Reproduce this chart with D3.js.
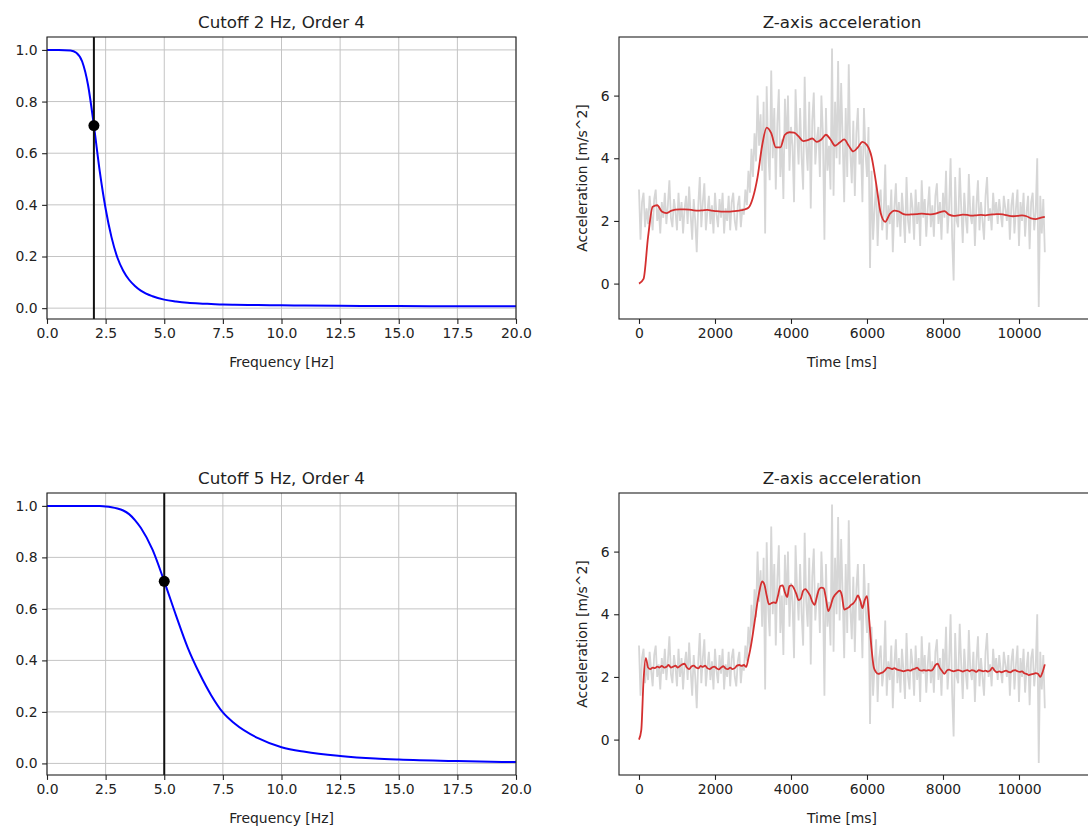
<!DOCTYPE html>
<html>
<head>
<meta charset="utf-8">
<script src="https://cdn.jsdelivr.net/npm/d3@7"></script>
<style>
  body { margin: 0; background: #fff; }
  text { font-family: "DejaVu Sans", sans-serif; fill: #222; }
</style>
</head>
<body>
<div id="fig"></div>
<script>
// frequency response of the two Butterworth filters
var freqs = [0, 0.5, 1, 1.25, 1.5, 1.75, 2, 2.25, 2.5, 2.75, 3, 3.25, 3.5, 3.75, 4, 4.5, 5,
  5.5, 6, 6.5, 7, 7.5, 8, 9, 10, 11, 12.5, 14, 15, 17.5, 20]
var resp2Hz = [1, 1, 0.998, 0.989, 0.955, 0.864, 0.707, 0.53, 0.385, 0.275, 0.196, 0.145, 0.11, 0.086,
  0.068, 0.046, 0.033, 0.026, 0.021, 0.018, 0.016, 0.014, 0.013, 0.012, 0.011, 0.01, 0.009, 0.0085,
  0.008, 0.0075, 0.007]
var resp5Hz = [1, 1, 1, 1, 1, 1, 1, 0.9995, 0.998, 0.995, 0.99, 0.982, 0.968, 0.945, 0.915, 0.83,
  0.707, 0.575, 0.45, 0.35, 0.265, 0.198, 0.155, 0.098, 0.063, 0.045, 0.029, 0.019, 0.015, 0.009, 0.005]
var cutoffs = [2, 5]

// raw z-axis acceleration, one sample every 40 ms
var rawAccel = [
  3.0, 1.4, 2.6, 2.9, 1.8, 2.4, 1.9, 2.8, 2.2, 1.7,
  2.7, 3.0, 2.0, 2.4, 1.6, 2.6, 2.1, 2.9, 1.9, 2.5,
  3.3, 2.1, 1.8, 2.7, 2.3, 1.7, 2.9, 2.0, 2.6, 1.6,
  2.4, 2.8, 1.9, 3.1, 2.2, 1.4, 2.7, 2.0, 1.0, 2.5,
  3.4, 1.8, 2.6, 3.2, 1.7, 2.3, 2.8, 1.9, 2.5, 1.6,
  2.9, 2.2, 1.8, 2.7, 2.1, 2.9, 1.6, 2.4, 2.0, 2.8,
  1.7, 2.6, 2.9, 2.0, 1.7, 2.5, 2.8, 1.8, 2.4, 2.2,
  3.0, 2.5, 3.6, 2.9, 4.3, 3.4, 4.8, 3.9,
  6.0, 4.4, 5.4, 3.6, 5.8, 1.6, 6.3, 4.2, 3.3, 6.8,
  4.0, 5.6, 3.0, 5.1, 6.2, 3.4, 4.6, 2.7, 5.9, 4.3,
  6.0, 3.6, 5.0, 4.4, 2.6, 6.2, 4.8, 3.8, 5.6, 4.0,
  3.0, 6.6, 4.4, 3.6, 5.8, 2.4, 5.2, 6.1, 3.8, 4.6,
  5.0, 3.4, 6.0, 4.8, 1.4, 5.6, 3.6, 4.4, 3.0, 7.5,
  2.8, 5.8, 4.0, 7.1, 3.8, 6.4, 4.6, 2.6, 5.6, 3.4,
  7.0, 4.2, 3.2, 5.2, 2.8, 4.8, 5.6, 3.8, 4.4, 2.6,
  5.6, 4.2, 3.4, 5.0,
  0.5, 3.6, 1.4, 2.4, 3.2,
  1.2, 2.6, 3.0, 1.7, 2.2, 3.8, 1.4, 2.5, 1.9, 3.0,
  1.0, 2.4, 3.2, 1.8, 2.6, 1.5, 2.9, 2.2, 1.3, 3.4,
  2.0, 1.6, 2.9, 2.4, 1.4, 3.0, 1.9, 2.6, 1.2, 3.3,
  2.1, 2.7, 1.5, 2.4, 3.1, 1.8, 2.5, 1.5, 2.8, 3.2,
  1.9, 2.6, 1.4, 2.9, 2.1, 3.6, 1.6, 2.4, 4.0, 1.5,
  0.1, 3.4, 2.0, 1.8, 3.7, 2.4, 1.3, 2.9, 2.1, 1.6,
  3.5, 2.2, 1.9, 2.8, 1.2, 2.5, 3.3, 1.7, 2.6, 2.0,
  1.4, 2.8, 3.4, 2.0, 2.4, 1.7, 2.9, 2.2, 2.6, 1.9,
  2.7, 2.2, 1.8, 2.8, 2.4, 2.0, 2.7, 1.4, 2.5, 2.9,
  1.6, 2.4, 3.0, 1.2, 2.6, 2.0, 2.9, 1.5, 2.3, 2.8,
  1.1, 2.6, 2.9, 1.7, 2.3, 4.0, -0.75, 2.8, 1.6, 2.7,
  1.0]
var rawTime = d3.range(0, 10681, 40)

// filtered with cutoff 2 Hz, one sample every 120 ms
var filt2Hz = [0.0, 0.15, 1.5, 2.45, 2.5, 2.3, 2.25, 2.32, 2.36, 2.37, 2.37, 2.36, 2.34, 2.33, 2.34, 2.35,
  2.33, 2.31, 2.3, 2.3, 2.3, 2.31, 2.33, 2.36, 2.42, 2.75, 3.4, 4.4, 4.98, 4.8, 4.35, 4.35, 4.75, 4.83,
  4.82, 4.7, 4.55, 4.58, 4.63, 4.52, 4.6, 4.75, 4.6, 4.4, 4.5, 4.6, 4.4, 4.22, 4.35, 4.52, 4.42, 4.05,
  3.2, 2.25, 1.97, 2.22, 2.33, 2.3, 2.22, 2.2, 2.21, 2.22, 2.23, 2.22, 2.21, 2.23, 2.28, 2.31, 2.2, 2.16,
  2.18, 2.2, 2.19, 2.17, 2.18, 2.19, 2.18, 2.2, 2.21, 2.22, 2.2, 2.17, 2.15, 2.16, 2.18, 2.15, 2.08, 2.06,
  2.1, 2.13]
var filt2Time = d3.range(0, 10681, 120)

// filtered with cutoff 5 Hz, one sample every 60 ms
var filt5Hz = [0.0, 0.3, 1.9, 2.6, 2.3, 2.25, 2.3, 2.28, 2.33, 2.3, 2.35, 2.3, 2.32, 2.38, 2.3, 2.33, 2.36,
  2.3, 2.35, 2.4, 2.42, 2.3, 2.25, 2.33, 2.36, 2.3, 2.27, 2.35, 2.32, 2.36, 2.28, 2.25, 2.3, 2.33, 2.28,
  2.24, 2.3, 2.34, 2.27, 2.25, 2.3, 2.25, 2.28, 2.36, 2.38, 2.35, 2.38, 2.32, 2.6, 2.95, 3.4, 3.9, 4.4,
  4.8, 5.05, 4.95, 4.6, 4.32, 4.35, 4.38, 4.36, 4.6, 4.9, 4.92, 4.7, 4.55, 4.9, 4.92, 4.82, 4.65, 4.45,
  4.5, 4.75, 4.8, 4.72, 4.6, 4.4, 4.3, 4.55, 4.8, 4.85, 4.83, 4.5, 4.1, 4.25, 4.5, 4.62, 4.7, 4.75, 4.6,
  4.15, 4.18, 4.22, 4.3, 4.35, 4.45, 4.6, 4.45, 4.2, 4.45, 4.58, 3.8, 2.9, 2.3, 2.15, 2.1, 2.12, 2.15,
  2.22, 2.3, 2.28, 2.25, 2.28, 2.24, 2.22, 2.2, 2.18, 2.2, 2.22, 2.2, 2.24, 2.26, 2.3, 2.22, 2.2, 2.22,
  2.2, 2.22, 2.2, 2.25, 2.38, 2.42, 2.28, 2.18, 2.1, 2.2, 2.23, 2.2, 2.18, 2.2, 2.22, 2.2, 2.17, 2.2,
  2.22, 2.18, 2.22, 2.2, 2.16, 2.22, 2.2, 2.18, 2.2, 2.17, 2.2, 2.3, 2.2, 2.15, 2.18, 2.15, 2.18, 2.2,
  2.16, 2.15, 2.2, 2.22, 2.18, 2.16, 2.18, 2.12, 2.1, 2.06, 2.08, 2.1, 2.12, 2.1, 2.0, 2.15, 2.4]
var filt5Time = d3.range(0, 10681, 60)

var freqTicks = [0, 2.5, 5, 7.5, 10, 12.5, 15, 17.5, 20]
var respTicks = [0, 0.2, 0.4, 0.6, 0.8, 1.0]
var timeTicks = [0, 2000, 4000, 6000, 8000, 10000]
var accelTicks = [0, 2, 4, 6]

var W = 1088, H = 827
var svg = d3.select("#fig").append("svg")
  .attr("width", W).attr("height", H)
svg.append("rect").attr("width", W).attr("height", H).attr("fill", "#fff")

var tickLen = 4.9, fontTick = 13.9, fontTitle = 16.7

function styleAxis(ax) {
  ax.select(".domain").remove()
  ax.selectAll(".tick line").attr("stroke", "#222").attr("stroke-width", 1.1)
  ax.selectAll(".tick text").style("font-size", fontTick + "px")
    .style("font-family", "DejaVu Sans").attr("fill", "#222")
}

function frame(g, x0, y0, w, h) {
  g.append("rect")
    .attr("x", x0).attr("y", y0).attr("width", w).attr("height", h)
    .attr("fill", "none").attr("stroke", "#222").attr("stroke-width", 1.1)
}

function drawResponse(idx, top, resp, cutoff, title, ydom) {
  var left = 47, right = 516, bottom = top + 282
  var g = svg.append("g")
  var x = d3.scaleLinear().domain([0, 20]).range([left, right])
  var y = d3.scaleLinear().domain(ydom).range([bottom, top])

  // grid
  g.append("g").selectAll("line").data(freqTicks).enter().append("line")
    .attr("x1", d => x(d)).attr("x2", d => x(d))
    .attr("y1", top).attr("y2", bottom)
    .attr("stroke", "#c4c4c4").attr("stroke-width", 1)
  g.append("g").selectAll("line").data(respTicks).enter().append("line")
    .attr("y1", d => y(d)).attr("y2", d => y(d))
    .attr("x1", left).attr("x2", right)
    .attr("stroke", "#c4c4c4").attr("stroke-width", 1)

  var clipId = "clipL" + idx
  svg.append("clipPath").attr("id", clipId).append("rect")
    .attr("x", left).attr("y", top).attr("width", right - left).attr("height", bottom - top)

  var line = d3.line().x((d, i) => x(freqs[i])).y(d => y(d)).curve(d3.curveMonotoneX)
  g.append("path").datum(resp)
    .attr("clip-path", "url(#" + clipId + ")")
    .attr("d", line).attr("fill", "none")
    .attr("stroke", "#0000ff").attr("stroke-width", 2)

  // cutoff marker
  g.append("line")
    .attr("x1", x(cutoff)).attr("x2", x(cutoff))
    .attr("y1", top).attr("y2", bottom)
    .attr("stroke", "#111").attr("stroke-width", 2)
  g.append("circle")
    .attr("cx", x(cutoff)).attr("cy", y(Math.SQRT1_2))
    .attr("r", 5.5).attr("fill", "#000")

  var xAxis = g.append("g").attr("transform", `translate(0,${bottom})`)
    .call(d3.axisBottom(x).tickValues(freqTicks).tickFormat(d3.format(".1f"))
      .tickSize(tickLen).tickPadding(4.5))
  styleAxis(xAxis)
  var yAxis = g.append("g").attr("transform", `translate(${left},0)`)
    .call(d3.axisLeft(y).tickValues(respTicks).tickFormat(d3.format(".1f"))
      .tickSize(tickLen).tickPadding(4.5))
  styleAxis(yAxis)

  frame(g, left, top, right - left, bottom - top)

  g.append("text")
    .attr("x", (left + right) / 2).attr("y", top - 9)
    .attr("text-anchor", "middle")
    .style("font-size", fontTitle + "px")
    .text(title)
  g.append("text")
    .attr("x", (left + right) / 2).attr("y", bottom + 48)
    .attr("text-anchor", "middle")
    .style("font-size", fontTick + "px")
    .text("Frequency [Hz]")
}

function drawAccel(idx, top, filt, filtTime) {
  var left = 619, right = 1110, bottom = top + 282
  var g = svg.append("g")
  // 0 ms sits at 639px and 10000 ms at 1019px
  var x = d3.scaleLinear().domain([-526, 12395]).range([left, right])
  var y = d3.scaleLinear().domain([-1.13, 7.87]).range([bottom, top])

  var clipId = "clipR" + idx
  svg.append("clipPath").attr("id", clipId).append("rect")
    .attr("x", left).attr("y", top).attr("width", right - left).attr("height", bottom - top)

  var rawLine = d3.line().x((d, i) => x(rawTime[i])).y(d => y(d))
  g.append("path").datum(rawAccel)
    .attr("clip-path", "url(#" + clipId + ")")
    .attr("d", rawLine).attr("fill", "none")
    .attr("stroke", "#d6d6d6").attr("stroke-width", 1.8)

  var filtLine = d3.line().x((d, i) => x(filtTime[i])).y(d => y(d)).curve(d3.curveMonotoneX)
  g.append("path").datum(filt)
    .attr("clip-path", "url(#" + clipId + ")")
    .attr("d", filtLine).attr("fill", "none")
    .attr("stroke", "#d42f2f").attr("stroke-width", 1.8)

  var xAxis = g.append("g").attr("transform", `translate(0,${bottom})`)
    .call(d3.axisBottom(x).tickValues(timeTicks).tickFormat(d3.format("d"))
      .tickSize(tickLen).tickPadding(4.5))
  styleAxis(xAxis)
  var yAxis = g.append("g").attr("transform", `translate(${left},0)`)
    .call(d3.axisLeft(y).tickValues(accelTicks).tickFormat(d3.format("d"))
      .tickSize(tickLen).tickPadding(4.5))
  styleAxis(yAxis)

  frame(g, left, top, right - left, bottom - top)

  g.append("text")
    .attr("x", 842).attr("y", top - 9)
    .attr("text-anchor", "middle")
    .style("font-size", fontTitle + "px")
    .text("Z-axis acceleration")
  g.append("text")
    .attr("x", 842).attr("y", bottom + 48)
    .attr("text-anchor", "middle")
    .style("font-size", fontTick + "px")
    .text("Time [ms]")
  g.append("text")
    .attr("transform", `translate(587,${(top + bottom) / 2}) rotate(-90)`)
    .attr("text-anchor", "middle")
    .style("font-size", fontTick + "px")
    .text("Acceleration [m/s^2]")
}

drawResponse(0, 37, resp2Hz, cutoffs[0], "Cutoff 2 Hz, Order 4", [-0.042, 1.05])
drawResponse(1, 493, resp5Hz, cutoffs[1], "Cutoff 5 Hz, Order 4", [-0.045, 1.05])
drawAccel(0, 37, filt2Hz, filt2Time)
drawAccel(1, 493, filt5Hz, filt5Time)
</script>
</body>
</html>
